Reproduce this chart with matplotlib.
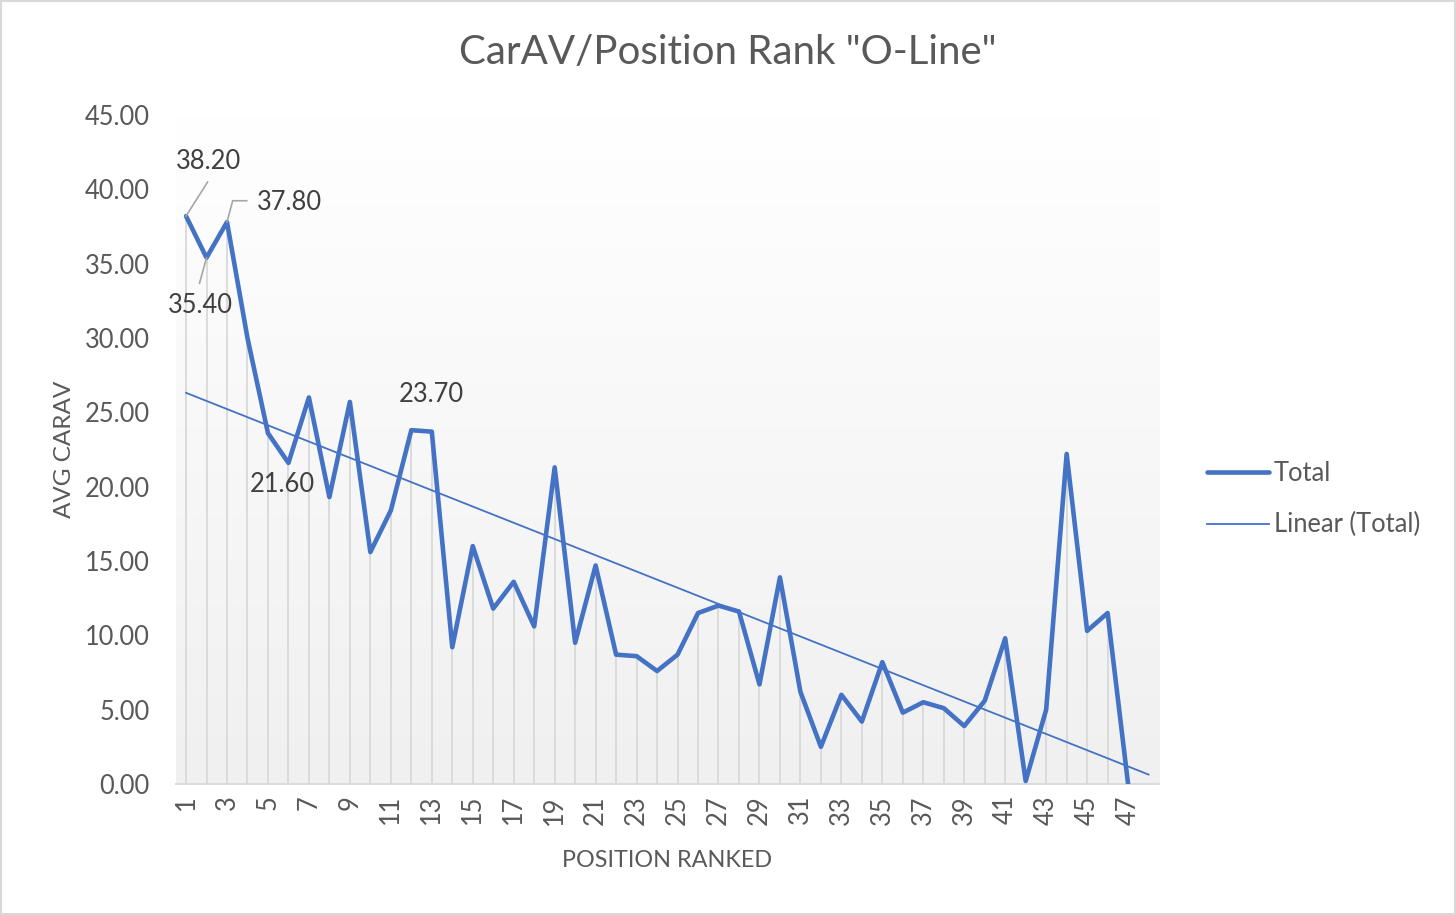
import numpy as np
import matplotlib
matplotlib.use("Agg")
import matplotlib.pyplot as plt
from matplotlib.patches import Rectangle
from matplotlib.colors import LinearSegmentedColormap
from matplotlib.lines import Line2D

# ---- data ----
positions = list(range(1, 48))
avg_carav = [38.2, 35.4, 37.8, 30.0, 23.6, 21.6, 26.0, 19.3, 25.7, 15.6,
             18.4, 23.8, 23.7, 9.2, 16.0, 11.8, 13.6, 10.6, 21.3, 9.5,
             14.7, 8.7, 8.6, 7.6, 8.7, 11.5, 12.0, 11.6, 6.7, 13.9,
             6.2, 2.5, 6.0, 4.2, 8.2, 4.8, 5.5, 5.1, 3.9, 5.6,
             9.8, 0.2, 5.0, 22.2, 10.3, 11.5, 0.0]
x_ticks = list(range(1, 48, 2))
y_ticks = [0, 5, 10, 15, 20, 25, 30, 35, 40, 45]
title = 'CarAV/Position Rank "O-Line"'
x_label = "POSITION RANKED"
y_label = "AVG CARAV"
series_name = "Total"
trend_name = "Linear (Total)"
forecast_forward = 1

plt.rcParams['font.family'] = ['Lato', 'DejaVu Sans']

W, H, DPI = 1456, 915, 100
fig = plt.figure(figsize=(W / DPI, H / DPI), dpi=DPI)
fig.patch.set_facecolor('white')
ax = fig.add_axes([175.8 / W, 1 - 784 / H, (1158.8 - 175.8) / W, (784 - 115) / H])

TXT = '#595959'
BLUE = '#4472C4'

xs = np.array(positions, dtype=float)
ys = np.array(avg_carav, dtype=float)

xmax = len(positions) + forecast_forward + 0.5
ax.set_xlim(0.5, xmax)
ax.set_ylim(0, 45)

# gradient plot-area fill
grad = np.linspace(0, 1, 256).reshape(-1, 1)
cmap = LinearSegmentedColormap.from_list('g', ['#f0f0f0', '#ffffff'])
ax.imshow(grad, extent=(0.5, xmax, 0, 45), origin='lower', aspect='auto',
          cmap=cmap, zorder=0)

# drop lines
ax.vlines(xs, 0, ys, color='#d9d9d9', lw=1.3, zorder=1)

# main series
line_total, = ax.plot(xs, ys, color=BLUE, lw=3.3, solid_joinstyle='round',
                      solid_capstyle='round', zorder=4, label=series_name)

# linear trendline
k, b = np.polyfit(xs, ys, 1)
tx = np.array([1, len(positions) + forecast_forward], dtype=float)
line_trend, = ax.plot(tx, k * tx + b, color=BLUE, lw=1.3, zorder=3, label=trend_name)

# axes styling
for s in ['left', 'right', 'top']:
    ax.spines[s].set_visible(False)
ax.spines['bottom'].set_color('#d9d9d9')
ax.spines['bottom'].set_linewidth(1.3)
ax.spines['bottom'].set_zorder(2)

ax.set_yticks(y_ticks)
ax.set_yticklabels([f"{v:.2f}" for v in y_ticks])
ax.set_xticks(x_ticks)
ax.set_xticklabels([str(v) for v in x_ticks], rotation=90)
ax.tick_params(axis='both', length=0, labelsize=18.4, labelcolor=TXT)
ax.tick_params(axis='y', pad=19)
ax.tick_params(axis='x', pad=8)

ax.set_xlabel(x_label, fontsize=16.8, color=TXT, labelpad=18)
ax.set_ylabel(y_label, fontsize=17.5, color=TXT, labelpad=7)

fig.text(728 / W, 1 - 53 / H, title, ha='center', va='center', fontsize=29, color=TXT)

# data labels
LBL = '#404040'
LEAD = '#a6a6a6'

def offset_px(i, dx, dy, txt, ha='center', va='center'):
    ax.annotate(txt, xy=(xs[i], ys[i]), xytext=(dx, dy), textcoords='offset pixels',
                ha=ha, va=va, fontsize=18.4, color=LBL, zorder=6)

def polyline(i, pts):
    px, py = ax.transData.transform((xs[i], ys[i]))
    xx = [px + p[0] for p in pts]
    yy = [py + p[1] for p in pts]
    ax.add_artist(Line2D(xx, yy, color=LEAD, lw=1.2, transform=None, zorder=5))

# label 1 (38.20)
offset_px(0, 22, 55, f"{ys[0]:.2f}")
polyline(0, [(0, 0), (21.5, 34)])
# label 2 (35.40)
offset_px(1, -6.5, -48, f"{ys[1]:.2f}")
polyline(1, [(0, 0), (-7, -25.5)])
# label 3 (37.80)
offset_px(2, 30, 20, f"{ys[2]:.2f}", ha='left')
polyline(2, [(0, 0), (5.7, 21.3), (19.7, 21.3)])
# label 6 (21.60)
offset_px(5, -6, -22, f"{ys[5]:.2f}")
# label 13 (23.70)
offset_px(12, 0, 37, f"{ys[12]:.2f}")

# legend
leg = fig.legend(handles=[line_total, line_trend], loc='center left',
                 bbox_to_anchor=(1197 / W, 1 - 499 / H), frameon=False,
                 fontsize=18.4, handlelength=2.4, handletextpad=0.2,
                 labelspacing=1.05, borderaxespad=0)
for t in leg.get_texts():
    t.set_color(TXT)

# chart border
fig.add_artist(Rectangle((0.0008, 0.0012), 0.9985, 0.9975, transform=fig.transFigure,
                         fill=False, edgecolor='#d9d9d9', lw=1.5))

fig.savefig('out.png', dpi=DPI)
